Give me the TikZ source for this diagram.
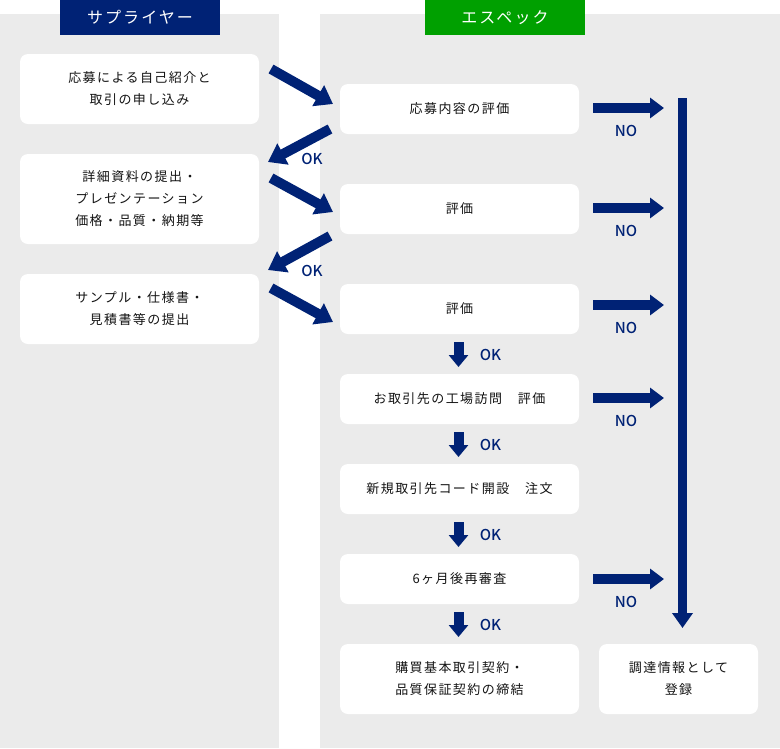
\documentclass[tikz,border=0pt]{standalone}
\usepackage{fontspec}
\setmainfont{Noto Sans CJK JP}
\newfontfamily\boxfont[LetterSpace=11]{Noto Sans CJK JP}
\newfontfamily\headfont[LetterSpace=13]{Noto Sans CJK JP}
\newfontfamily\lblfont{Noto Sans CJK JP Medium}
\usetikzlibrary{arrows.meta}
\definecolor{navy}{RGB}{0,34,117}
\definecolor{espgreen}{RGB}{0,160,0}
\definecolor{panel}{RGB}{235,235,235}
\definecolor{txt}{RGB}{20,20,20}
\tikzset{
  stepbox/.style={fill=white, rounded corners=8pt, minimum width=239pt, minimum height=50pt,
    inner sep=0pt, align=center, text=txt, font=\boxfont\fontsize{13}{22}\selectfont},
  headbox/.style={minimum width=160pt, minimum height=35pt, inner sep=0pt, text=white,
    font=\headfont\fontsize{16}{20}\selectfont},
  diag/.style={navy, line width=10pt, -{Triangle[length=17pt,width=23pt]}},
  noarr/.style={navy, line width=9.5pt, -{Triangle[length=14pt,width=20pt]}},
  downarr/.style={navy, line width=10pt, -{Triangle[length=12pt,width=19pt]}},
  lbl/.style={text=navy, inner sep=0pt, font=\lblfont\fontsize{15}{18}\selectfont}
}
\begin{document}
\begin{tikzpicture}[x=1pt,y=-1pt]
\useasboundingbox (0,0) rectangle (780,748);
% panels
\fill[panel] (0,14) rectangle (279,748);
\fill[panel] (320,14) rectangle (780,748);
% headers
\node[headbox, fill=navy] (hs) at (140,17.5) {サプライヤー};
\node[headbox, fill=espgreen] (he) at (505,17.5) {エスペック};
% left boxes
\node[stepbox, minimum height=70pt] (l1) at (139.5,89) {応募による自己紹介と\\取引の申し込み};
\node[stepbox, minimum height=90pt] (l2) at (139.5,199) {詳細資料の提出・\\プレゼンテーション\\価格・品質・納期等};
\node[stepbox, minimum height=70pt] (l3) at (139.5,309) {サンプル・仕様書・\\見積書等の提出};
% right boxes
\node[stepbox] (r1) at (459.5,109) {応募内容の評価};
\node[stepbox] (r2) at (459.5,209) {評価};
\node[stepbox] (r3) at (459.5,309) {評価};
\node[stepbox] (r4) at (459.5,399) {お取引先の工場訪問　評価};
\node[stepbox] (r5) at (459.5,489) {新規取引先コード開設　注文};
\node[stepbox] (r6) at (459.5,579) {6ヶ月後再審査};
\node[stepbox, minimum height=70pt] (r7) at (459.5,679) {購買基本取引契約・\\品質保証契約の締結};
\node[stepbox, minimum height=70pt, minimum width=159pt] (fin) at (678.5,679) {調達情報として\\登録};
% diagonal arrows
\coordinate (d1s) at (271,69);  \coordinate (d1e) at (333,104);
\coordinate (d2s) at (330,129); \coordinate (d2e) at (268,162);
\coordinate (d3s) at (271,178); \coordinate (d3e) at (333,212);
\coordinate (d4s) at (330,236); \coordinate (d4e) at (268,270);
\coordinate (d5s) at (271,288); \coordinate (d5e) at (333,322);
\draw[diag] (d1s) -- (d1e);
\draw[diag] (d2s) -- (d2e);
\draw[diag] (d3s) -- (d3e);
\draw[diag] (d4s) -- (d4e);
\draw[diag] (d5s) -- (d5e);
\node[lbl] (ok1) at (312,159) {OK};
\node[lbl] (ok2) at (312,271) {OK};
% down arrows
\foreach \t/\n in {342/1,432/2,522/3,612/4}{
  \coordinate (ds\n) at (458.5,\t);
  \coordinate (de\n) at (458.5,\t+25);
  \draw[downarr] (ds\n) -- (de\n);
  \node[lbl] (okd\n) at (490.5,\t+13) {OK};
}
% NO arrows
\foreach \y/\n in {108/1,208/2,305/3,398/4,579/5}{
  \coordinate (ns\n) at (593,\y);
  \coordinate (ne\n) at (664,\y);
  \draw[noarr] (ns\n) -- (ne\n);
  \node[lbl] (no\n) at (626,\y+23) {NO};
}
% vertical collector
\coordinate (vtop) at (682.5,98);
\coordinate (vbot) at (682.5,628);
\draw[navy, line width=9pt, -{Triangle[length=15pt,width=20pt]}] (vtop) -- (vbot);
\end{tikzpicture}
\end{document}
